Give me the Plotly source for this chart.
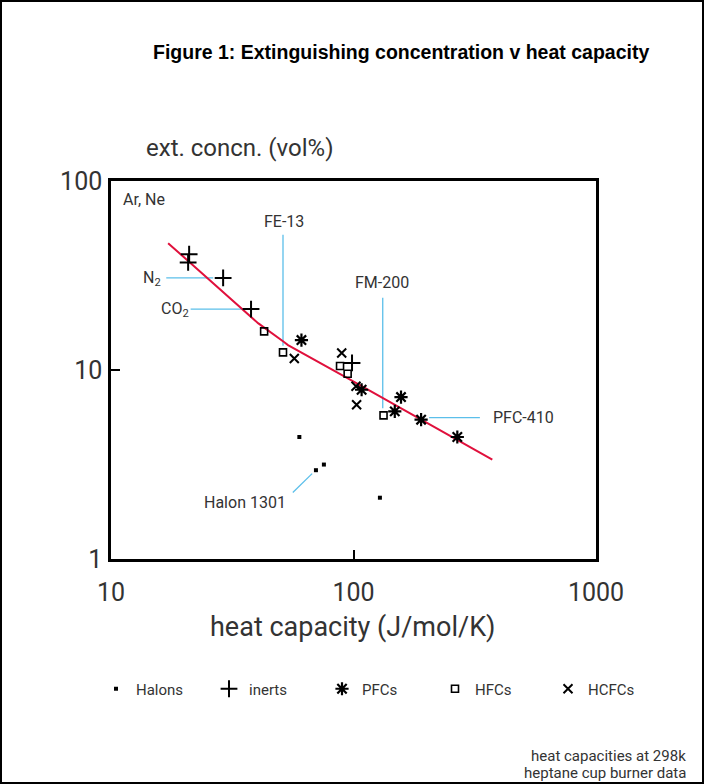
import plotly.graph_objects as go

# ---------------- data ----------------
halons_x = [59.8, 70.0, 75.5, 128.5]
halons_y = [4.42, 2.95, 3.16, 2.11]

inerts_x = [21.0, 20.8, 29.0, 37.8, 98.6]
inerts_y = [41.0, 37.1, 30.7, 21.0, 10.9]

pfcs_x = [61.0, 108.0, 157.0, 148.0, 190.0, 268.0]
pfcs_y = [14.4, 7.86, 7.19, 6.04, 5.46, 4.42]

hfcs_x = [42.8, 51.2, 88.0, 94.6, 133.0]
hfcs_y = [16.0, 12.4, 10.5, 9.55, 5.75]

hcfcs_x = [57.0, 89.4, 102.4, 103.0]
hcfcs_y = [11.5, 12.3, 8.21, 6.55]

fit_x = [17.2, 38.5, 40.4, 51.7, 53.7, 94.8, 373.6]
fit_y = [46.9, 18.9, 17.7, 14.06, 13.55, 9.02, 3.36]

# leader lines for labels (data units)
fe13_x, fe13_y = [51.2, 51.2], [51.9, 13.45]
fm200_x, fm200_y = [132.0, 132.0], [24.1, 6.27]
n2_x, n2_y = [16.9, 26.4], [30.7, 30.7]
co2_x, co2_y = [21.3, 36.3], [21.0, 21.0]
pfc410_x, pfc410_y = [205.0, 332.0], [5.60, 5.60]
halon1301_x, halon1301_y = [56.2, 67.5], [2.25, 2.83]

x_ticks = [10, 100, 1000]
y_ticks = [1, 10, 100]

# ---------------- layout helpers ----------------
FW, FH = 704, 784
PL, PR, PT, PB = 111, 596, 181, 559
W, H = PR - PL, PB - PT


def px(x):
    return (x - PL) / W


def py(y):
    return (PB - y) / H


FONT = "Roboto"
TXT = "#333333"
CYAN = "#5bbfea"
RED = "#e0103c"

fig = go.Figure()

# leader lines
for lx, ly in [(fe13_x, fe13_y), (fm200_x, fm200_y), (n2_x, n2_y),
               (co2_x, co2_y), (pfc410_x, pfc410_y), (halon1301_x, halon1301_y)]:
    fig.add_trace(go.Scatter(x=lx, y=ly, mode="lines",
                             line=dict(color=CYAN, width=1.3),
                             showlegend=False, hoverinfo="skip"))

# fit line
fig.add_trace(go.Scatter(x=fit_x, y=fit_y, mode="lines",
                         line=dict(color=RED, width=2),
                         showlegend=False, hoverinfo="skip"))

fig.add_trace(go.Scatter(x=halons_x, y=halons_y, mode="markers", name="Halons",
                         marker=dict(symbol="square", size=4, color="black")))
fig.add_trace(go.Scatter(x=inerts_x, y=inerts_y, mode="markers", name="inerts",
                         marker=dict(symbol="cross-thin", size=12, color="black",
                                     line=dict(color="black", width=2))))
fig.add_trace(go.Scatter(x=pfcs_x, y=pfcs_y, mode="markers", name="PFCs",
                         marker=dict(symbol="asterisk", size=11, color="black",
                                     line=dict(color="black", width=2.2))))
fig.add_trace(go.Scatter(x=hfcs_x, y=hfcs_y, mode="markers", name="HFCs",
                         marker=dict(symbol="square-open", size=7, color="black",
                                     line=dict(color="black", width=1.6))))
fig.add_trace(go.Scatter(x=hcfcs_x, y=hcfcs_y, mode="markers", name="HCFCs",
                         marker=dict(symbol="x-thin", size=9, color="black",
                                     line=dict(color="black", width=2))))

annotations = [
    dict(text="<b>Figure 1: Extinguishing concentration v heat capacity</b>",
         x=px(401), y=py(52), xanchor="center", yanchor="middle",
         font=dict(family="Liberation Sans", size=19.5, color="black")),
    dict(text="ext. concn. (vol%)", x=px(144), y=py(148), xanchor="left",
         yanchor="middle", font=dict(family=FONT, size=24, color=TXT)),
    dict(text="heat capacity (J/mol/K)", x=px(352), y=py(627), xanchor="center",
         yanchor="middle", font=dict(family=FONT, size=27, color=TXT)),
    dict(text="Ar, Ne", x=px(121), y=py(199), xanchor="left", yanchor="middle",
         font=dict(family=FONT, size=16, color=TXT)),
    dict(text="FE-13", x=px(284), y=py(221), xanchor="center", yanchor="middle",
         font=dict(family=FONT, size=16, color=TXT)),
    dict(text="FM-200", x=px(382), y=py(282), xanchor="center", yanchor="middle",
         font=dict(family=FONT, size=16, color=TXT)),
    dict(text="N<sub>2</sub>", x=px(163), y=py(278), xanchor="right", yanchor="middle",
         font=dict(family=FONT, size=16, color=TXT)),
    dict(text="CO<sub>2</sub>", x=px(191), y=py(309), xanchor="right", yanchor="middle",
         font=dict(family=FONT, size=16, color=TXT)),
    dict(text="PFC-410", x=px(491), y=py(417), xanchor="left", yanchor="middle",
         font=dict(family=FONT, size=16, color=TXT)),
    dict(text="Halon 1301", x=px(245), y=py(502), xanchor="center", yanchor="middle",
         font=dict(family=FONT, size=16, color=TXT)),
    dict(text="heat capacities at 298k", x=px(688), y=py(756), xanchor="right",
         yanchor="middle", font=dict(family=FONT, size=15, color=TXT)),
    dict(text="heptane cup burner data", x=px(688), y=py(773), xanchor="right",
         yanchor="middle", font=dict(family=FONT, size=15, color=TXT)),
]
for a in annotations:
    a.update(xref="paper", yref="paper", showarrow=False)

fig.update_layout(
    width=FW, height=FH,
    margin=dict(l=PL, r=FW - PR, t=PT, b=FH - PB, pad=0),
    paper_bgcolor="white", plot_bgcolor="white",
    font=dict(family=FONT, color=TXT),
    annotations=annotations,
    showlegend=True,
    legend=dict(orientation="h", x=px(96), y=py(689), xanchor="left",
                yanchor="middle", entrywidth=68, entrywidthmode="pixels",
                font=dict(family=FONT, size=15, color=TXT),
                bgcolor="rgba(0,0,0,0)"),
    shapes=[dict(type="rect", xref="paper", yref="paper",
                 x0=px(1), x1=px(703), y0=py(1), y1=py(783),
                 line=dict(color="black", width=2))],
)

fig.update_xaxes(type="log", range=[1, 3], tickvals=x_ticks,
                 ticktext=[str(v) for v in x_ticks],
                 showgrid=False, zeroline=False, showline=True, mirror=True,
                 linecolor="black", linewidth=2.5, ticks="inside", ticklen=9,
                 tickwidth=2, tickcolor="black", ticklabelstandoff=9,
                 tickfont=dict(family=FONT, size=25, color=TXT))
fig.update_yaxes(type="log", range=[0, 2], tickvals=y_ticks,
                 ticktext=[str(v) for v in y_ticks],
                 showgrid=False, zeroline=False, showline=True, mirror=True,
                 linecolor="black", linewidth=2.5, ticks="inside", ticklen=9,
                 tickwidth=2, tickcolor="black", ticklabelstandoff=1,
                 tickfont=dict(family=FONT, size=25, color=TXT))

fig.write_html("out.html", config={"displayModeBar": False},
               post_script="document.body.style.margin='0';document.body.style.padding='0';")
